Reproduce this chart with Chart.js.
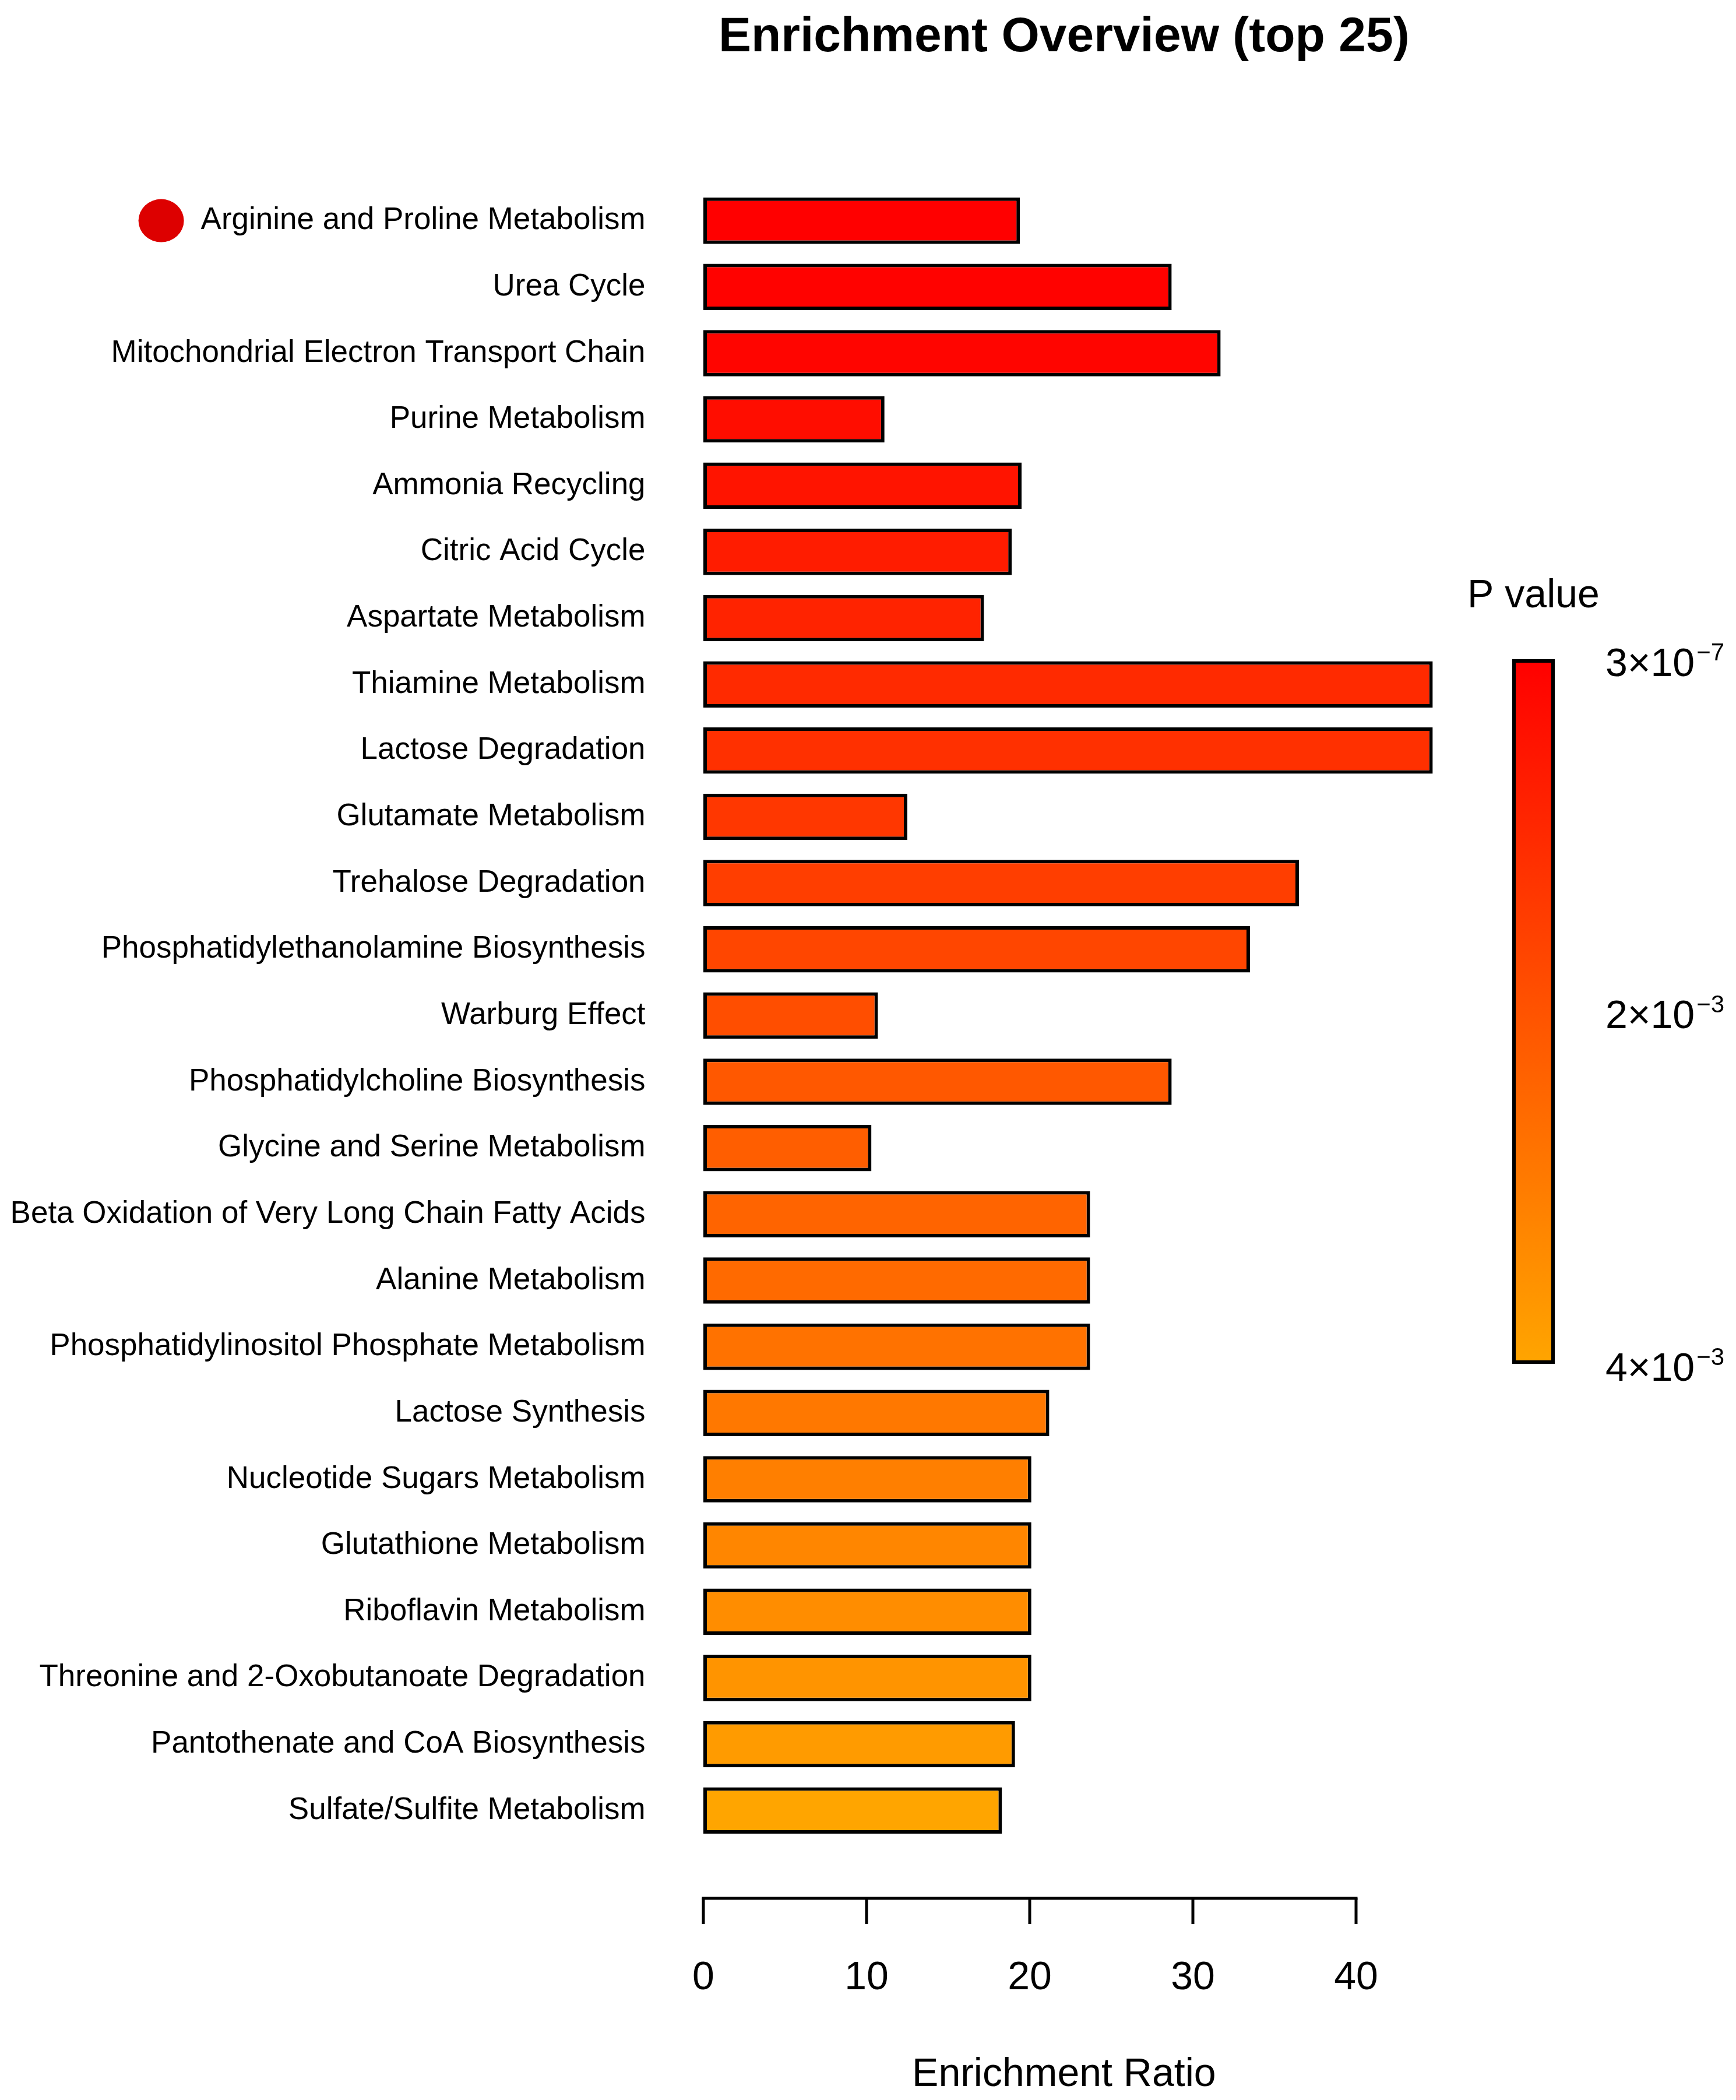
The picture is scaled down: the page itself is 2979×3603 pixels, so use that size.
<!DOCTYPE html>
<html>
<head>
<meta charset="utf-8">
<title>Enrichment Overview (top 25)</title>
<script src="https://cdn.jsdelivr.net/npm/chart.js@4.4.1/dist/chart.umd.min.js"></script>
<style>
  html, body { margin: 0; padding: 0; background: #fff; }
  canvas { display: block; }
</style>
</head>
<body>
<canvas id="enrichChart" width="2979" height="3603" style="width:2979px;height:3603px"></canvas>
<script>
// ── data ─────────────────────────────────────────────────────────────────────
const CATEGORIES = [
  'Arginine and Proline Metabolism',
  'Urea Cycle',
  'Mitochondrial Electron Transport Chain',
  'Purine Metabolism',
  'Ammonia Recycling',
  'Citric Acid Cycle',
  'Aspartate Metabolism',
  'Thiamine Metabolism',
  'Lactose Degradation',
  'Glutamate Metabolism',
  'Trehalose Degradation',
  'Phosphatidylethanolamine Biosynthesis',
  'Warburg Effect',
  'Phosphatidylcholine Biosynthesis',
  'Glycine and Serine Metabolism',
  'Beta Oxidation of Very Long Chain Fatty Acids',
  'Alanine Metabolism',
  'Phosphatidylinositol Phosphate Metabolism',
  'Lactose Synthesis',
  'Nucleotide Sugars Metabolism',
  'Glutathione Metabolism',
  'Riboflavin Metabolism',
  'Threonine and 2-Oxobutanoate Degradation',
  'Pantothenate and CoA Biosynthesis',
  'Sulfate/Sulfite Metabolism'
];

const ENRICHMENT = [
  19.4, 28.7, 31.7, 11.1, 19.5, 18.9, 17.2, 44.7, 44.7, 12.5,
  36.5, 33.5, 10.7, 28.7, 10.3, 23.7, 23.7, 23.7, 21.2, 20.1,
  20.1, 20.1, 20.1, 19.1, 18.3
];

// estimated from bar colours against the colour key
const P_VALUES = [
  3.0e-7, 4.8e-5, 1.2e-4, 3.2e-4, 4.8e-4, 6.8e-4, 8.5e-4, 1.02e-3, 1.16e-3, 1.33e-3,
  1.50e-3, 1.70e-3, 1.89e-3, 2.13e-3, 2.28e-3, 2.42e-3, 2.57e-3, 2.76e-3, 2.91e-3, 3.08e-3,
  3.25e-3, 3.42e-3, 3.59e-3, 3.76e-3, 4.0e-3
];

const X_TICKS = [0, 10, 20, 30, 40];
const P_TICKS = [3e-7, 2e-3, 4e-3];
const P_TICK_BASE = ['3\u00d710', '2\u00d710', '4\u00d710'];
const P_TICK_EXP = ['\u22127', '\u22123', '\u22123'];

// ── look ──────────────────────────────────────────────────────────────────────
const FONT = '"Liberation Sans", Arial, sans-serif';
const X_MIN = -1.8, X_MAX = 46.0;
const P_MIN = 3e-7, P_MAX = 4e-3;
const LOW = [255, 0, 0], HIGH = [255, 165, 0];   // red -> orange

function pColor(p) {
  const t = Math.min(1, Math.max(0, (p - P_MIN) / (P_MAX - P_MIN)));
  const c = LOW.map((v, i) => Math.round(v + (HIGH[i] - v) * t));
  return `rgb(${c[0]},${c[1]},${c[2]})`;
}

Chart.defaults.font.family = FONT;
Chart.defaults.color = '#000';

// axis line + ticks below the bars, the top-hit dot, and the p-value colour key
const overlay = {
  id: 'overlay',
  afterDraw(chart) {
    const { ctx, scales: { x, y } } = chart;
    ctx.save();

    // x axis, offset under the plot like base R
    const axisY = chart.chartArea.bottom + 94;
    const x0 = x.getPixelForValue(X_TICKS[0]);
    const x1 = x.getPixelForValue(X_TICKS[X_TICKS.length - 1]);
    ctx.strokeStyle = '#000';
    ctx.lineWidth = 5;
    ctx.lineCap = 'square';
    ctx.beginPath();
    ctx.moveTo(x0, axisY);
    ctx.lineTo(x1, axisY);
    ctx.stroke();
    ctx.lineCap = 'butt';
    X_TICKS.forEach(v => {
      const px = x.getPixelForValue(v);
      ctx.beginPath();
      ctx.moveTo(px, axisY);
      ctx.lineTo(px, axisY + 44);
      ctx.stroke();
    });

    // red dot in front of the first pathway
    ctx.font = `53px ${FONT}`;
    const labelRight = y.right - y.options.ticks.padding;
    const textW = ctx.measureText(CATEGORIES[0]).width;
    ctx.fillStyle = '#dd0000';
    ctx.beginPath();
    ctx.ellipse(labelRight - textW - 68, y.getPixelForValue(0), 39, 37, 0, 0, Math.PI * 2);
    ctx.fill();

    // colour key
    const kL = 2595, kR = 2668, kT = 1131, kB = 2340;
    const grad = ctx.createLinearGradient(0, kT, 0, kB);
    grad.addColorStop(0, pColor(P_MIN));
    grad.addColorStop(0.5, pColor((P_MIN + P_MAX) / 2));
    grad.addColorStop(1, pColor(P_MAX));
    ctx.fillStyle = grad;
    ctx.fillRect(kL, kT, kR - kL, kB - kT);
    ctx.strokeStyle = '#000';
    ctx.lineWidth = 6;
    ctx.strokeRect(kL + 3, kT + 3, kR - kL - 6, kB - kT - 6);

    ctx.fillStyle = '#000';
    ctx.textBaseline = 'alphabetic';
    ctx.textAlign = 'center';
    ctx.font = `68px ${FONT}`;
    ctx.fillText('P value', (kL + kR) / 2, 1042);

    ctx.textAlign = 'left';
    P_TICKS.forEach((p, i) => {
      const py = kT + (p - P_MIN) / (P_MAX - P_MIN) * (kB - kT);
      ctx.font = `68px ${FONT}`;
      ctx.fillText(P_TICK_BASE[i], 2755, py + 29);
      const w = ctx.measureText(P_TICK_BASE[i]).width;
      ctx.font = `42px ${FONT}`;
      ctx.fillText(P_TICK_EXP[i], 2755 + w + 3, py + 2);
    });

    ctx.restore();
  }
};

new Chart(document.getElementById('enrichChart'), {
  type: 'bar',
  data: {
    labels: CATEGORIES,
    datasets: [{
      data: ENRICHMENT,
      backgroundColor: P_VALUES.map(pColor),
      borderColor: '#000',
      borderWidth: 6,
      borderSkipped: false,
      barPercentage: 0.70,
      categoryPercentage: 1.0
    }]
  },
  options: {
    indexAxis: 'y',
    responsive: false,
    devicePixelRatio: 1,
    animation: false,
    layout: { padding: { left: 0, right: 484, top: 0, bottom: 0 } },
    scales: {
      x: {
        type: 'linear',
        min: X_MIN,
        max: X_MAX,
        grid: { display: false, drawTicks: false },
        border: { display: false },
        afterBuildTicks: s => { s.ticks = X_TICKS.map(v => ({ value: v })); },
        afterFit: s => { s.height = 440; },
        ticks: {
          font: { size: 68 },
          color: '#000',
          padding: 190,
          maxRotation: 0,
          autoSkip: false,
          callback: v => String(v)
        },
        title: {
          display: true,
          text: 'Enrichment Ratio',
          font: { size: 68 },
          color: '#000',
          padding: { top: 0, bottom: 2 }
        }
      },
      y: {
        type: 'category',
        grid: { display: false, drawTicks: false },
        border: { display: false },
        afterFit: s => { s.width = 1156.6; },
        ticks: {
          font: { size: 53 },
          color: '#000',
          padding: 49,
          autoSkip: false
        }
      }
    },
    plugins: {
      legend: { display: false },
      tooltip: { enabled: false },
      title: {
        display: true,
        text: 'Enrichment Overview (top 25)',
        fullSize: false,
        color: '#000',
        font: { size: 84, weight: 'bold' },
        padding: { top: 14, bottom: 207 }
      }
    }
  },
  plugins: [overlay]
});
</script>
</body>
</html>
